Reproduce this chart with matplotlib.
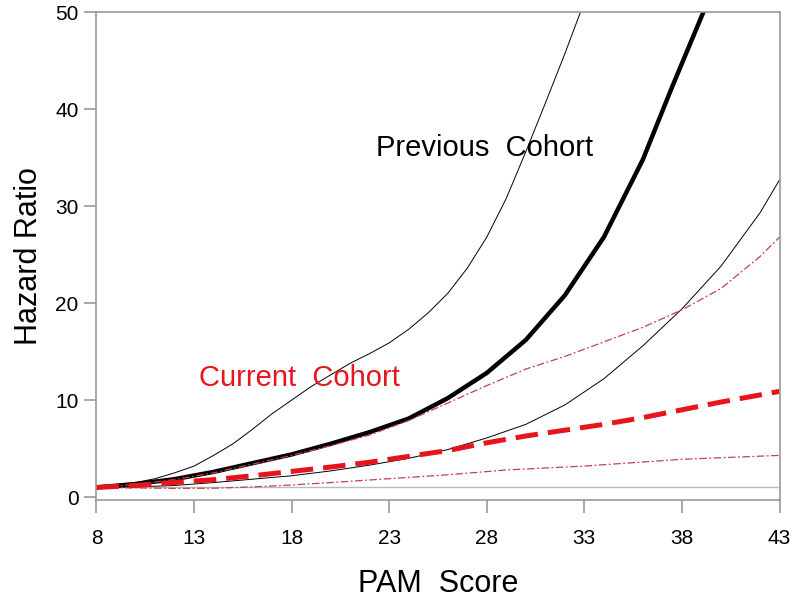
import matplotlib
matplotlib.use("Agg")
import matplotlib.pyplot as plt

plt.rcParams['font.family'] = ['Liberation Sans', 'DejaVu Sans']

# previous cohort: estimate and 95% band
prev_x = [8, 10, 12, 14, 16, 18, 20, 22, 24, 26, 28, 30, 32, 34, 36, 37.5, 39.1]
prev_hr = [1.0, 1.35, 1.85, 2.6, 3.5, 4.4, 5.5, 6.7, 8.1, 10.2, 12.8, 16.2,
           20.8, 26.8, 34.8, 42.3, 50]

prev_up_x = [8, 10, 11, 12, 13, 14, 15, 16, 17, 18, 19, 20, 21, 22, 23, 24,
             25, 26, 27, 28, 29, 30, 31, 32, 32.8]
prev_up_hr = [1, 1.5, 1.9, 2.5, 3.2, 4.3, 5.5, 7.0, 8.6, 10.0, 11.4, 12.6,
              13.8, 14.8, 15.9, 17.3, 19.0, 21.0, 23.6, 26.8, 30.8, 35.6,
              40.6, 45.7, 50]

prev_lo_x = [8, 10, 12, 14, 16, 18, 20, 22, 24, 26, 28, 30, 32, 34, 36, 38,
             40, 42, 43]
prev_lo_hr = [1.0, 1.05, 1.2, 1.5, 1.85, 2.2, 2.7, 3.3, 4.0, 4.9, 6.1, 7.5,
              9.5, 12.2, 15.6, 19.4, 23.8, 29.3, 32.7]

# current cohort: estimate and 95% band
cur_x = [8, 10, 12, 14, 16, 18, 20, 22, 24, 26, 28, 30, 32, 34, 36, 38, 40, 43]
cur_hr = [1.0, 1.2, 1.5, 1.8, 2.2, 2.65, 3.1, 3.6, 4.2, 4.8, 5.6, 6.3, 6.9,
          7.5, 8.2, 9.0, 9.8, 10.9]

cur_up_x = [8, 10, 12, 14, 16, 18, 20, 22, 24, 26, 28, 30, 32, 34, 36, 38,
            40, 42, 43]
cur_up_hr = [1.0, 1.3, 1.8, 2.5, 3.4, 4.3, 5.3, 6.4, 7.9, 9.7, 11.5, 13.2,
             14.5, 16.0, 17.5, 19.3, 21.5, 24.8, 26.8]

cur_lo_x = [8, 10, 12, 14, 16, 18, 20, 23, 26, 29, 33, 38, 43]
cur_lo_hr = [1.0, 0.95, 0.9, 0.92, 1.05, 1.25, 1.5, 1.9, 2.3, 2.8, 3.2, 3.9, 4.3]

x_ticks = [8, 13, 18, 23, 28, 33, 38, 43]
y_ticks = [0, 10, 20, 30, 40, 50]

fig = plt.figure(figsize=(8, 6.01), dpi=100)
ax = fig.add_axes([0.1206, 0.168, 0.8538, 0.812])

ax.plot([8, 43], [1, 1], color='#bbbbbb', lw=1)

ax.plot(prev_up_x, prev_up_hr, color='black', lw=0.7)
ax.plot(prev_lo_x, prev_lo_hr, color='black', lw=0.7)
ax.plot(prev_x, prev_hr, color='black', lw=3.2)

red = '#e8141c'
ax.plot(cur_up_x, cur_up_hr, color='#c8404a', lw=0.9, dashes=(6, 2, 1.5, 2))
ax.plot(cur_lo_x, cur_lo_hr, color='#c8404a', lw=0.9, dashes=(6, 2, 1.5, 2))
ax.plot(cur_x, cur_hr, color=red, lw=3.6, dashes=(4.5, 2))

ax.text(27.9, 36.0, 'Previous  Cohort', fontsize=21, color='black',
        ha='center', va='center')
ax.text(18.4, 12.3, 'Current  Cohort', fontsize=21, color=red,
        ha='center', va='center')

ax.set_xlim(8, 43)
ax.set_ylim(-0.3, 50)
ax.set_xticks(x_ticks)
ax.set_yticks(y_ticks)
for s in ax.spines.values():
    s.set_color('#999999')
    s.set_linewidth(1.2)
ax.tick_params(direction='out', length=9, width=1.2, color='#999999',
               labelsize=15)
ax.tick_params(axis='x', pad=12)
ax.tick_params(axis='y', pad=4)
ax.set_xlabel('PAM  Score', fontsize=22, labelpad=15)
ax.set_ylabel('Hazard Ratio', fontsize=22, labelpad=8)

fig.savefig('out.png', dpi=100)
